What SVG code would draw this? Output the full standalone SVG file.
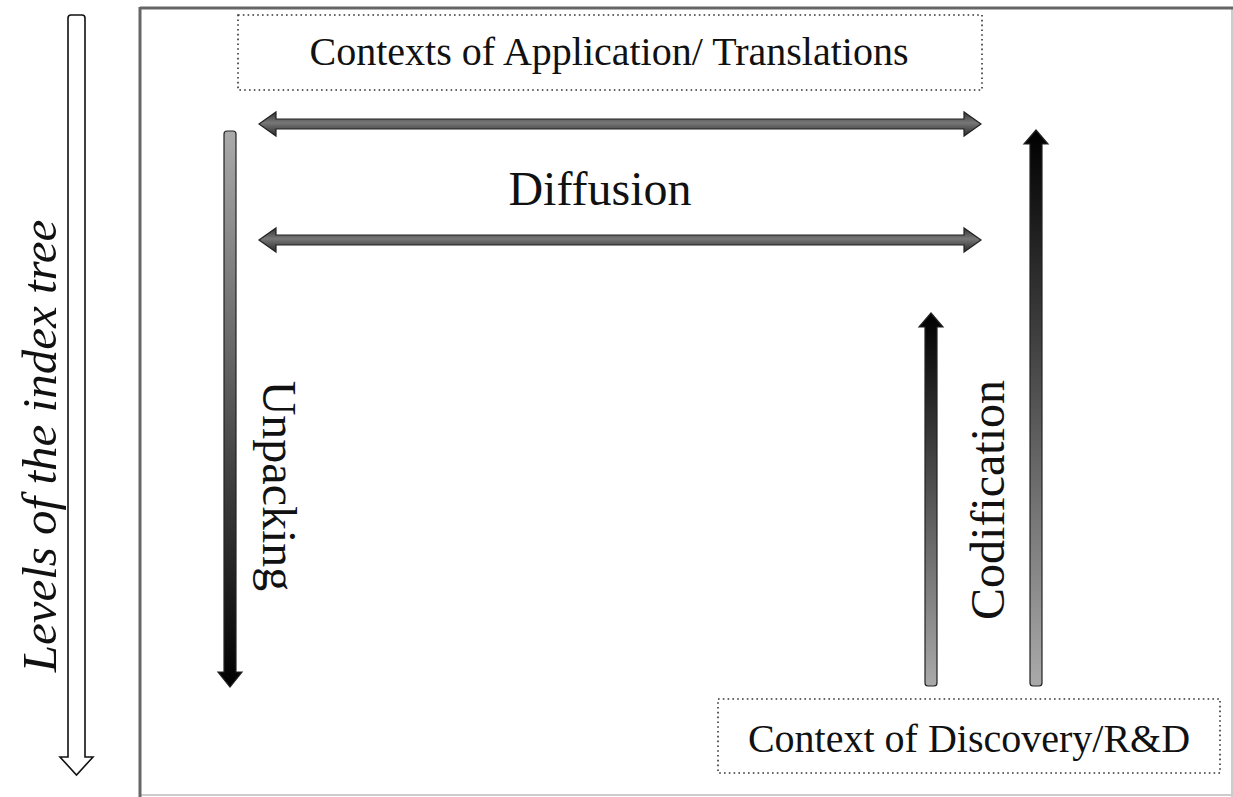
<svg xmlns="http://www.w3.org/2000/svg" width="1233" height="797" viewBox="0 0 1233 797">
<defs>
<style>
.t{font-family:"Liberation Serif","Times New Roman",serif;fill:#111}
.box{fill:none;stroke:#333;stroke-width:1.6;stroke-dasharray:1.6 3.2}
.dbl{stroke:#222;stroke-width:1.2}
.v{stroke:#222;stroke-width:1.2}
</style>
<linearGradient id="gh" x1="0" y1="0" x2="0" y2="1">
<stop offset="0" stop-color="#333"/><stop offset="0.45" stop-color="#777"/><stop offset="1" stop-color="#2a2a2a"/>
</linearGradient>
<linearGradient id="gdown" x1="0" y1="0" x2="0" y2="1">
<stop offset="0" stop-color="#aaa"/><stop offset="1" stop-color="#000"/>
</linearGradient>
<linearGradient id="gup" x1="0" y1="0" x2="0" y2="1">
<stop offset="0" stop-color="#000"/><stop offset="1" stop-color="#aaa"/>
</linearGradient>
</defs>
<rect width="1233" height="797" fill="#fff"/>
<g id="frame">
<line x1="1232" y1="8" x2="1232" y2="797" stroke="#ccc" stroke-width="2"/>
<line x1="140" y1="795" x2="1233" y2="795" stroke="#ccc" stroke-width="2"/>
<line x1="140" y1="8" x2="1233" y2="8" stroke="#666" stroke-width="3"/>
<line x1="140" y1="7" x2="140" y2="797" stroke="#666" stroke-width="3"/>
</g>
<g id="levels">
<path d="M68,18 Q68,15 71,15 L82,15 Q85,15 85,18 L85,757 L93,757 L76.5,775 L60,757 L68,757 Z" fill="#fff" stroke="#111" stroke-width="1.6" stroke-linejoin="miter"/>
<text class="t" transform="translate(56,446) rotate(-90)" text-anchor="middle" font-size="49" font-style="italic">Levels of the index tree</text>
</g>
<g id="applications">
<rect class="box" x="238" y="15" width="744" height="75"/>
<text class="t" x="609" y="65" text-anchor="middle" font-size="40">Contexts of Application/ Translations</text>
</g>
<g id="discovery">
<rect class="box" x="718" y="699" width="502" height="74"/>
<text class="t" x="969" y="752" text-anchor="middle" font-size="40">Context of Discovery/R&amp;D</text>
</g>
<g id="connectors">
<path class="dbl" fill="url(#gh)" d="M259,124 L276,112 L276,119 L964,119 L964,112 L981,124 L964,136 L964,129 L276,129 L276,136 Z"/>
<path class="dbl" fill="url(#gh)" d="M259,240 L276,228 L276,235 L964,235 L964,228 L981,240 L964,252 L964,245 L276,245 L276,252 Z"/>
<path class="v" fill="url(#gdown)" d="M224,134 Q224,131 227,131 L233,131 Q236,131 236,134 L236,672 L242,672 L230,687 L218,672 L224,672 Z"/>
<path class="v" fill="url(#gup)" d="M931,313 L943,327 L937,327 L937,683 Q937,686 934,686 L928,686 Q925,686 925,683 L925,327 L919,327 Z"/>
<path class="v" fill="url(#gup)" d="M1036,130 L1048,144 L1042,144 L1042,683 Q1042,686 1039,686 L1033,686 Q1030,686 1030,683 L1030,144 L1024,144 Z"/>
</g>
<g id="labels">
<text class="t" x="600" y="205" text-anchor="middle" font-size="48">Diffusion</text>
<text class="t" transform="translate(263,486) rotate(90)" text-anchor="middle" font-size="48">Unpacking</text>
<text class="t" transform="translate(1004,500) rotate(-90)" text-anchor="middle" font-size="48">Codification</text>
</g>
</svg>
